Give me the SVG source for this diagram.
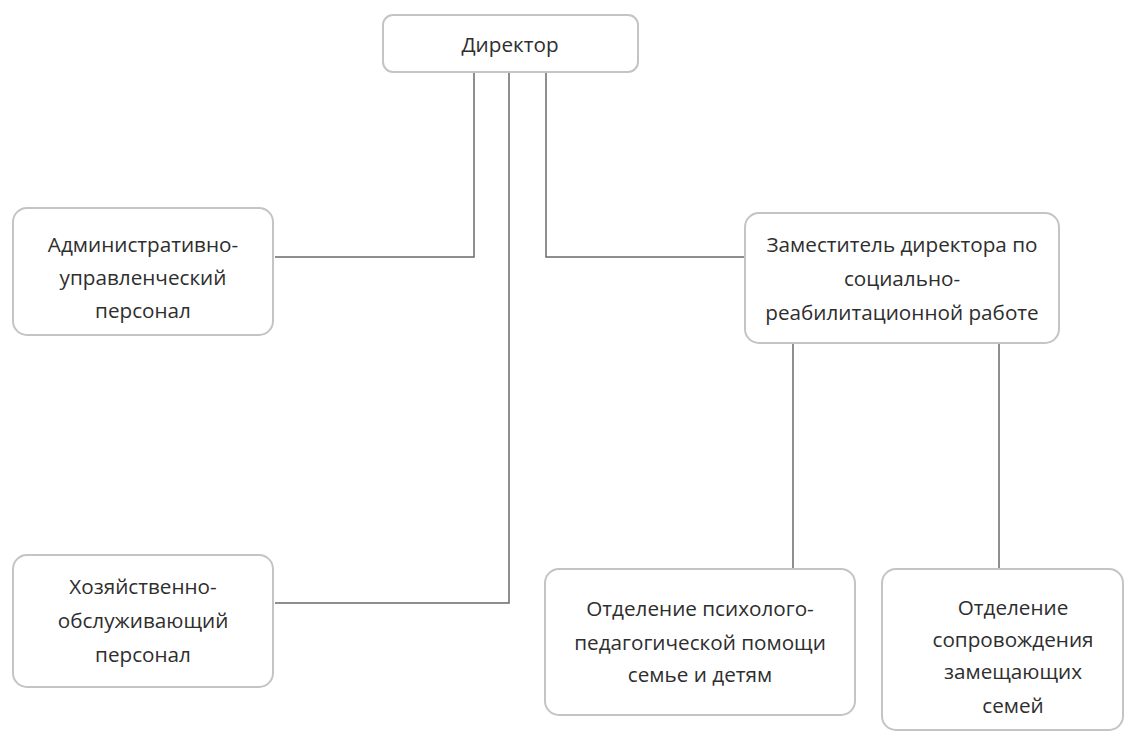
<svg xmlns="http://www.w3.org/2000/svg" width="1129" height="734" viewBox="0 0 1129 734">
<style>
.box{fill:#fff;stroke:#c4c4c4;stroke-width:2}
.t{font-family:"Open Sans","Liberation Sans",Arial,sans-serif;font-size:20.7px;fill:#2e2e2e;text-anchor:middle}
.c{fill:none;stroke:#6a6a6a;stroke-width:1.5}
</style>
<rect width="1129" height="734" fill="#fff"/>
<g id="connectors">
<path class="c" d="M474 72 V257 H275"/>
<path class="c" d="M546 72 V257 H744"/>
<path class="c" d="M509 72 V603 H275"/>
<path class="c" d="M793 343 V569"/>
<path class="c" d="M999 343 V569"/>
</g>
<g id="director">
<rect class="box" x="383" y="15" width="255" height="57" rx="10"/>
<text class="t" x="510" y="52">Директор</text>
</g>
<g id="admin">
<rect class="box" x="13" y="208" width="260" height="127" rx="14"/>
<text class="t" x="143" y="252">Административно-</text>
<text class="t" x="143" y="285">управленческий</text>
<text class="t" x="143" y="318">персонал</text>
</g>
<g id="deputy">
<rect class="box" x="745" y="213" width="314" height="130" rx="14"/>
<text class="t" x="902" y="252">Заместитель директора по</text>
<text class="t" x="902" y="286">социально-</text>
<text class="t" x="902" y="320">реабилитационной работе</text>
</g>
<g id="household">
<rect class="box" x="13" y="555" width="260" height="132" rx="14"/>
<text class="t" x="143" y="594">Хозяйственно-</text>
<text class="t" x="143" y="628">обслуживающий</text>
<text class="t" x="143" y="662">персонал</text>
</g>
<g id="psych">
<rect class="box" x="545" y="569" width="310" height="146" rx="14"/>
<text class="t" x="700" y="616">Отделение психолого-</text>
<text class="t" x="700" y="650">педагогической помощи</text>
<text class="t" x="700" y="682">семье и детям</text>
</g>
<g id="foster">
<rect class="box" x="882" y="569" width="241" height="161" rx="14"/>
<text class="t" x="1013" y="615">Отделение</text>
<text class="t" x="1013" y="647">сопровождения</text>
<text class="t" x="1013" y="679">замещающих</text>
<text class="t" x="1013" y="713">семей</text>
</g>
</svg>
